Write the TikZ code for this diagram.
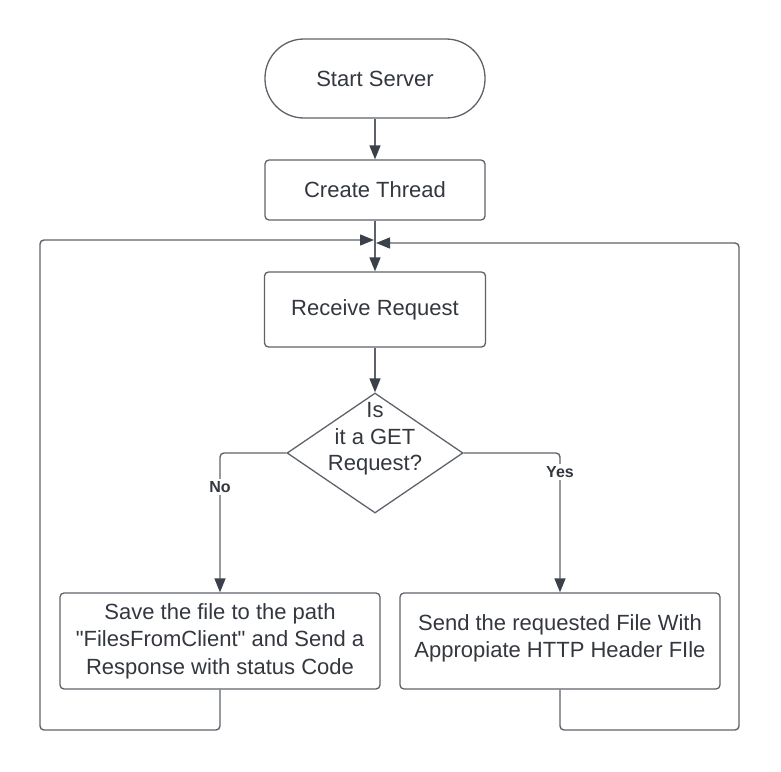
\documentclass[tikz,border=0pt]{standalone}
\usepackage{fontspec}
\setmainfont{Liberation Sans}[Ligatures=TeXOff]
\usetikzlibrary{arrows.meta,shapes.geometric}
\definecolor{linec}{RGB}{94,98,106}
\definecolor{arrc}{RGB}{58,65,74}
\definecolor{txtc}{RGB}{51,55,62}
\begin{document}
\begin{tikzpicture}[x=1pt,y=-1pt,
  box/.style={draw=linec, line width=1.3pt, rounded corners=4pt, align=center, text=txtc,
    font=\fontsize{22}{27.5}\selectfont, inner sep=0pt},
  txt/.style={align=center, text=txtc, font=\fontsize{22}{26.5}\selectfont, inner sep=0pt},
  lbl/.style={fill=white, text=txtc, font=\fontsize{16}{19}\selectfont\bfseries, inner sep=2pt},
  conn/.style={draw=linec, line width=1.4pt, -{Triangle[length=14pt,width=11pt,color=arrc]}},
  loopc/.style={conn, rounded corners=4pt}]
\useasboundingbox (0,0) rectangle (781,771);

\node[box, rounded corners=39pt, minimum width=220pt, minimum height=79pt] (start) at (375,78.5) {Start Server};
\node[box, minimum width=220pt, minimum height=60pt] (create) at (375,190) {Create Thread};
\node[box, minimum width=221pt, minimum height=75pt] (receive) at (375,309.5) {Receive Request};
\node[diamond, draw=linec, line width=1.3pt, minimum width=176pt, minimum height=120pt, inner sep=0pt] (dia) at (375,453) {};
\node[txt] (q) at (375,439) {Is\\it a GET\\Request?};
\node[box, minimum width=320pt, minimum height=96pt] (save) at (220,641) {Save the file to the path\\"FilesFromClient" and Send a\\Response with status Code};
\node[box, minimum width=320pt, minimum height=96pt] (send) at (560,641) {};
\node[txt] (sendt) at (560,638.5) {Send the requested File With\\Appropiate HTTP Header FIle};

\coordinate (mL) at (374,240);
\coordinate (mR) at (376,243);
\coordinate (bl) at (40,730);
\coordinate (br) at (739,730);

\draw[conn] (start.south) -- (create.north);
\draw[conn] (create.south) -- (receive.north);
\draw[conn] (receive.south) -- (dia.north);
\draw[loopc] (dia.west) -| (save.north);
\draw[loopc] (dia.east) -| (send.north);
\node[lbl] (no) at (220,487) {No};
\node[lbl] (yes) at (560,472) {Yes};
\draw[loopc] (save.south) |- (bl) -- (bl |- mL) -- (mL);
\draw[loopc] (send.south) |- (br) -- (br |- mR) -- (mR);
\end{tikzpicture}
\end{document}
